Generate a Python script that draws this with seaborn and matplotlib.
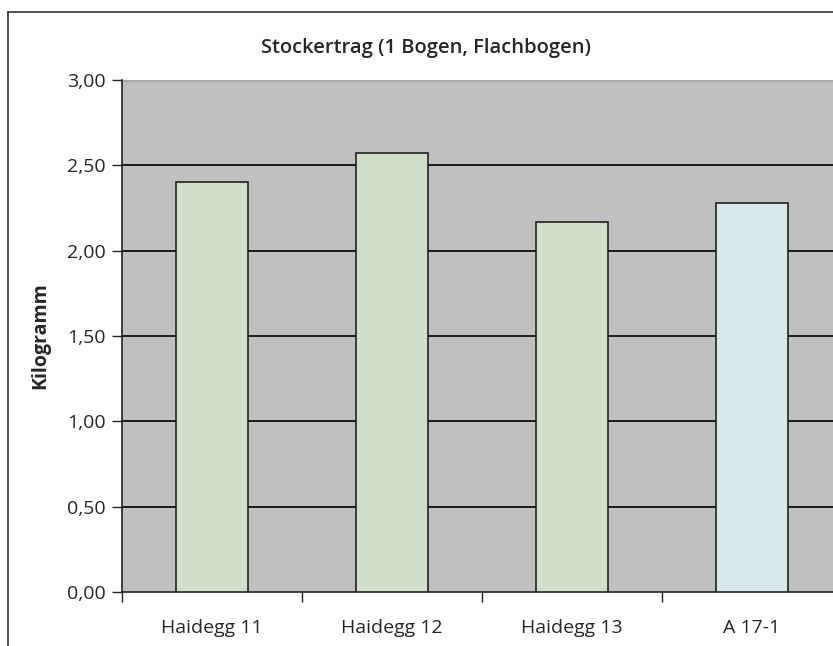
import matplotlib
matplotlib.use("Agg")
import matplotlib.pyplot as plt
from matplotlib.lines import Line2D
import seaborn as sns
import pandas as pd

sorten = ["Haidegg 11", "Haidegg 12", "Haidegg 13", "A 17-1"]
ertrag = [2.40, 2.57, 2.17, 2.28]
farben = ["#CFE4C4", "#CFE4C4", "#CFE4C4", "#D3E9F0"]
yticks = [0.0, 0.5, 1.0, 1.5, 2.0, 2.5, 3.0]


def main():
    df = pd.DataFrame({"sorte": sorten, "kg": ertrag})

    sns.set_style("white")
    plt.rcParams["font.family"] = ["Open Sans", "DejaVu Sans"]

    W, H = 833, 646
    fig = plt.figure(figsize=(W / 100, H / 100), dpi=100)
    # plot area runs past the right edge like in the original screenshot
    ax = fig.add_axes([122 / W, 1 - 592 / H, 720 / W, 512 / H])
    ax.set_facecolor("#C0C0C0")

    sns.barplot(data=df, x="sorte", y="kg", hue="sorte", palette=farben,
                legend=False, width=0.4, edgecolor="#222222", linewidth=1.2,
                zorder=3, ax=ax)

    ax.set_ylim(0, 3)
    ax.set_xlim(-0.5, 3.5)
    ax.set_yticks(yticks)
    ax.set_yticklabels([f"{v:.2f}".replace(".", ",") for v in yticks], fontsize=14)
    for v in yticks[1:-1]:
        ax.axhline(v, color="#1a1a1a", lw=1.4, zorder=1)
    # top edge of the plot area is only a faint grey line
    ax.axhline(yticks[-1], color="#A9A9A9", lw=2, zorder=1)

    ax.set_xticks([-0.5, 0.5, 1.5, 2.5])
    ax.set_xticklabels([])
    ax.tick_params(axis="x", bottom=True, length=7, width=1, color="#222222", direction="out")
    ax.tick_params(axis="y", left=True, length=7, width=1, color="#222222", direction="out", pad=5)
    for i, s in enumerate(sorten):
        ax.text(i, -0.21, s, ha="center", va="center", fontsize=14,
                transform=ax.transData, clip_on=False)

    for side in ["left", "bottom"]:
        ax.spines[side].set_color("#222222")
        ax.spines[side].set_linewidth(1.2)
    ax.spines["top"].set_visible(False)
    ax.spines["right"].set_visible(False)

    ax.set_xlabel("")
    ax.set_ylabel("Kilogramm", fontsize=14, fontweight="bold", labelpad=12)

    fig.text(426 / W, 1 - 48 / H, "Stockertrag (1 Bogen, Flachbogen)",
             ha="center", va="center", fontsize=14.5, fontweight="semibold")

    # outer chart frame, only left and top edges are inside the image
    x0, y0 = 8 / W, 1 - 12 / H
    fig.add_artist(Line2D([x0, x0], [0, y0], transform=fig.transFigure,
                          color="#333333", lw=1.2))
    fig.add_artist(Line2D([x0, 1], [y0, y0], transform=fig.transFigure,
                          color="#333333", lw=1.2))

    plt.savefig("out.png", dpi=100)
    plt.close()


if __name__ == "__main__":
    main()
